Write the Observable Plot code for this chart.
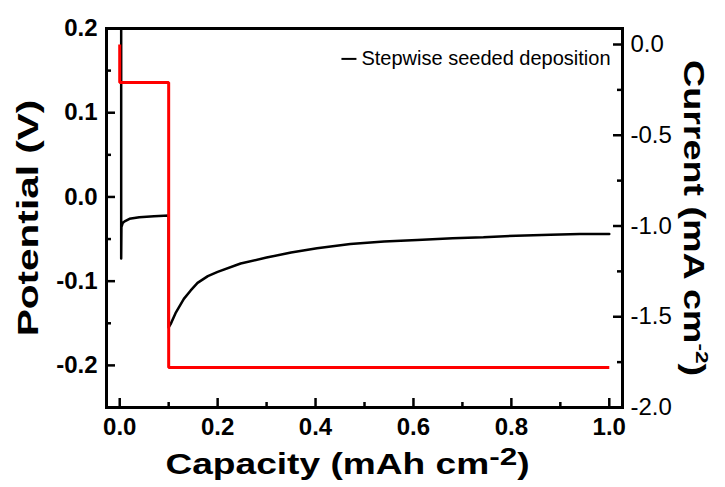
<!DOCTYPE html>
<html><head><meta charset="utf-8">
<script src="https://cdn.jsdelivr.net/npm/d3@7"></script>
<script src="https://cdn.jsdelivr.net/npm/@observablehq/plot@0.6"></script>
<style>html,body{margin:0;padding:0;background:#fff;}</style>
</head><body><div id="chart"></div>
<script>
// Potential (V) vs capacity (mAh cm-2) — black curve
const potentialCapacity = [0.003, 0.003, 0.0035, 0.006, 0.01, 0.02, 0.04, 0.07, 0.1, 0.1, 0.104, 0.114, 0.131, 0.145, 0.159, 0.18, 0.2, 0.247, 0.3, 0.35, 0.403, 0.471, 0.54, 0.608, 0.68, 0.743, 0.81, 0.88, 0.94, 1.0];
const potentialValues   = [0.25, -0.073, -0.036, -0.031, -0.029, -0.026, -0.024, -0.023, -0.022, -0.155, -0.151, -0.138, -0.121, -0.111, -0.102, -0.094, -0.089, -0.079, -0.072, -0.066, -0.061, -0.056, -0.053, -0.051, -0.049, -0.048, -0.046, -0.045, -0.044, -0.044];
// Current (mA cm-2) vs capacity — red step
const currentCapacity = [0, 0, 0.1, 0.1, 1.0];
const currentValues   = [0, -0.21, -0.21, -1.78, -1.78];

const xTickLabels = [0, 0.2, 0.4, 0.6, 0.8, 1.0];
const xMinorTicks = [0.1, 0.3, 0.5, 0.7, 0.9];
const leftTickLabels = [-0.2, -0.1, 0.0, 0.1, 0.2];
const leftMajorTicks = [-0.2, -0.1, 0.0, 0.1];
const leftMinorTicks = [-0.15, -0.05, 0.05, 0.15];
const rightTickLabels = [0.0, -0.5, -1.0, -1.5, -2.0];
const rightMajorTicks = [0.0, -0.5, -1.0, -1.5];
const rightMinorTicks = [-0.25, -0.75, -1.25, -1.75];

const legendLabel = "Stepwise seeded deposition";
const xTitle = "Capacity (mAh cm-2)";
const yTitle = "Potential (V)";
const y2Title = "Current (mA cm-2)";

const W = 725, H = 487, mL = 106, mR = 103, mT = 28, mB = 80;
const innerW = W - mL - mR, innerH = H - mT - mB;
// map current axis onto potential scale (0 mA -> 0.181 V, -2 mA -> -0.25 V)
const toV = I => 0.181 + I * 0.2155;

const potential = potentialCapacity.map((c, i) => ({c, v: potentialValues[i]}));
const current = currentCapacity.map((c, i) => ({c, i: currentValues[i]}));

const majorLen = 9, minorLen = 5, tickW = 2.5;
const font = "'Liberation Sans', Arial, Helvetica, sans-serif";
const fmt = d => d.toFixed(1);

const chart = Plot.plot({
  width: W, height: H,
  marginLeft: mL, marginRight: mR, marginTop: mT, marginBottom: mB,
  x: {domain: [-0.027, 1.027], axis: null},
  y: {domain: [-0.25, 0.2], axis: null},
  style: {fontFamily: font, background: "white", color: "black", overflow: "visible"},
  marks: [
    Plot.line(potential, {x: "c", y: "v", stroke: "black", strokeWidth: 2.5, clip: true}),
    Plot.line(current, {x: "c", y: d => toV(d.i), stroke: "#ff0000", strokeWidth: 3, strokeLinejoin: "miter", strokeLinecap: "butt", clip: true}),
    // inward ticks
    Plot.ruleY(leftMajorTicks, {y: d => d, insetRight: innerW - majorLen, strokeWidth: tickW}),
    Plot.ruleY(leftMinorTicks, {y: d => d, insetRight: innerW - minorLen, strokeWidth: tickW}),
    Plot.ruleY(rightMajorTicks, {y: d => toV(d), insetLeft: innerW - majorLen, strokeWidth: tickW}),
    Plot.ruleY(rightMinorTicks, {y: d => toV(d), insetLeft: innerW - minorLen, strokeWidth: tickW}),
    Plot.ruleX(xTickLabels, {x: d => d, insetTop: innerH - majorLen, strokeWidth: tickW}),
    Plot.ruleX(xMinorTicks, {x: d => d, insetTop: innerH - minorLen, strokeWidth: tickW}),
    Plot.frame({stroke: "black", strokeWidth: 3}),
    // tick labels
    Plot.text(leftTickLabels, {y: d => d, text: fmt, frameAnchor: "left", textAnchor: "end", lineAnchor: "middle", dx: -9, fontSize: 24, fontWeight: "bold"}),
    Plot.text(xTickLabels, {x: d => d, text: fmt, frameAnchor: "bottom", textAnchor: "middle", lineAnchor: "top", dy: 10, fontSize: 24, fontWeight: "bold"}),
    Plot.text(rightTickLabels, {y: d => toV(d), text: fmt, frameAnchor: "right", textAnchor: "start", lineAnchor: "middle", dx: 8, fontSize: 24}),
    // titles
    Plot.text([yTitle], {text: d => d, frameAnchor: "left", textAnchor: "middle", lineAnchor: "middle", dx: -78, rotate: -90, fontSize: 29, fontWeight: "bold"}),
    Plot.text([y2Title], {text: d => d, frameAnchor: "right", textAnchor: "middle", lineAnchor: "middle", dx: 71, rotate: 90, fontSize: 29, fontWeight: "bold"}),
    Plot.text([xTitle], {text: d => d, frameAnchor: "bottom", textAnchor: "middle", lineAnchor: "middle", dx: -17, dy: 57, fontSize: 29, fontWeight: "bold"}),
    // legend
    Plot.text([legendLabel], {text: d => d, frameAnchor: "top-right", textAnchor: "end", lineAnchor: "middle", dx: -12, dy: 30, fontSize: 20})
  ]
});

document.getElementById("chart").append(chart);

const svg = d3.select(chart);
svg.selectAll("text").each(function() {
  const t = d3.select(this);
  const s = this.textContent;
  if (s === xTitle) {
    t.text(null);
    t.append("tspan").text("Capacity (mAh cm");
    t.append("tspan").attr("dy", "-9px").attr("font-size", "0.85em").text("-2");
    t.append("tspan").attr("dy", "9px").text(")");
    t.attr("transform", t.attr("transform") + " scale(1.28,1)");
  } else if (s === y2Title) {
    t.text(null);
    t.append("tspan").text("Current (mA cm");
    t.append("tspan").attr("dy", "-12px").attr("font-size", "0.6em").text("-2");
    t.append("tspan").attr("dy", "12px").text(")");
    t.attr("transform", t.attr("transform") + " scale(1.3,1)");
  } else if (s === yTitle) {
    t.attr("transform", t.attr("transform") + " scale(1.4,1)");
  } else if (s === legendLabel) {
    const b = this.getBBox();
    const m = this.getCTM();
    const x0 = m.e + b.x, yc = m.f + b.y + b.height / 2;
    svg.append("line")
      .attr("x1", x0 - 20).attr("x2", x0 - 5)
      .attr("y1", yc + 1).attr("y2", yc + 1)
      .attr("stroke", "black").attr("stroke-width", 2);
  }
});
</script>
</body></html>
